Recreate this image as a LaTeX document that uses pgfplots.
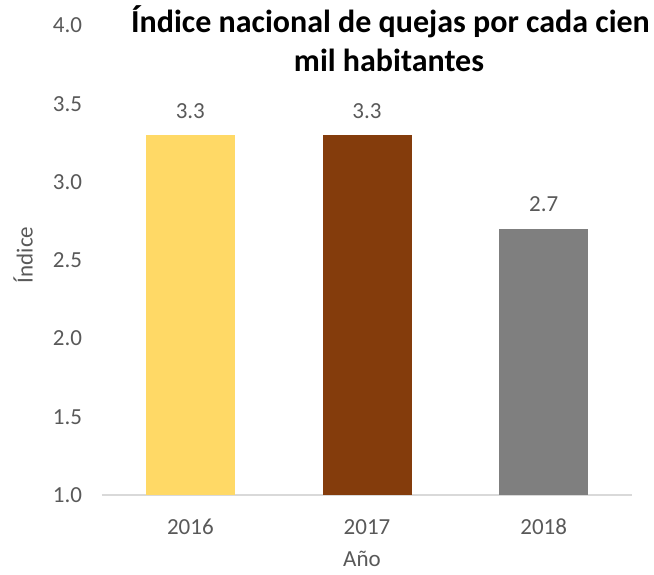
\documentclass[border=0pt]{standalone}
\usepackage{pgfplots}
\pgfplotsset{compat=1.18}
\usepackage{fontspec}
\setmainfont{Carlito}
\definecolor{cyel}{HTML}{FFD966}
\definecolor{cbrn}{HTML}{843C0C}
\definecolor{cgry}{HTML}{7F7F7F}
\definecolor{ctxt}{HTML}{595959}
\definecolor{cline}{HTML}{D9D9D9}
\begin{document}
\begin{tikzpicture}[x=1pt,y=1pt]
\useasboundingbox (0,0) rectangle (654,574);
\begin{axis}[
  at={(102pt,79pt)}, anchor=south west,
  scale only axis, width=530pt, height=469.5pt,
  xmin=-0.5, xmax=2.5, ymin=1, ymax=4,
  xtick={0,1,2}, xticklabels={2016,2017,2018},
  ytick={1,1.5,2,2.5,3,3.5,4},
  yticklabel style={/pgf/number format/fixed,/pgf/number format/fixed zerofill,/pgf/number format/precision=1, anchor=east, xshift=-16.5pt},
  /pgf/number format/assume math mode=true,
  tick label style={font=\fontsize{23}{27}\selectfont, text=ctxt},
  xticklabel style={anchor=base, yshift=-39pt},
  major tick length=0pt,
  axis lines*=left,
  x axis line style={draw=cline, line width=1.6pt},
  y axis line style={draw=none},
  ybar, bar width=89pt, bar shift=0pt,
  nodes near coords,
  nodes near coords style={font=\fontsize{23}{27}\selectfont, text=ctxt, anchor=base, yshift=17pt,
    /pgf/number format/fixed, /pgf/number format/fixed zerofill, /pgf/number format/precision=1, /pgf/number format/assume math mode=true},
  clip=false,
]
\addplot[draw=none, fill=cyel] coordinates {(0,3.3)};
\addplot[draw=none, fill=cbrn] coordinates {(1,3.3)};
\addplot[draw=none, fill=cgry] coordinates {(2,2.7)};
\end{axis}
\node[font=\bfseries\fontsize{32}{38}\selectfont, text=black, anchor=base] at (390.5,541) {Índice nacional de quejas por cada cien};
\node[font=\bfseries\fontsize{32}{38}\selectfont, text=black, anchor=base] at (389,502) {mil habitantes};
\node[font=\fontsize{23}{27}\selectfont, text=ctxt, rotate=90] at (23,319) {Índice};
\node[font=\fontsize{23}{27}\selectfont, text=ctxt, anchor=base, inner sep=0pt] at (362,8) {Año};
\end{tikzpicture}
\end{document}
